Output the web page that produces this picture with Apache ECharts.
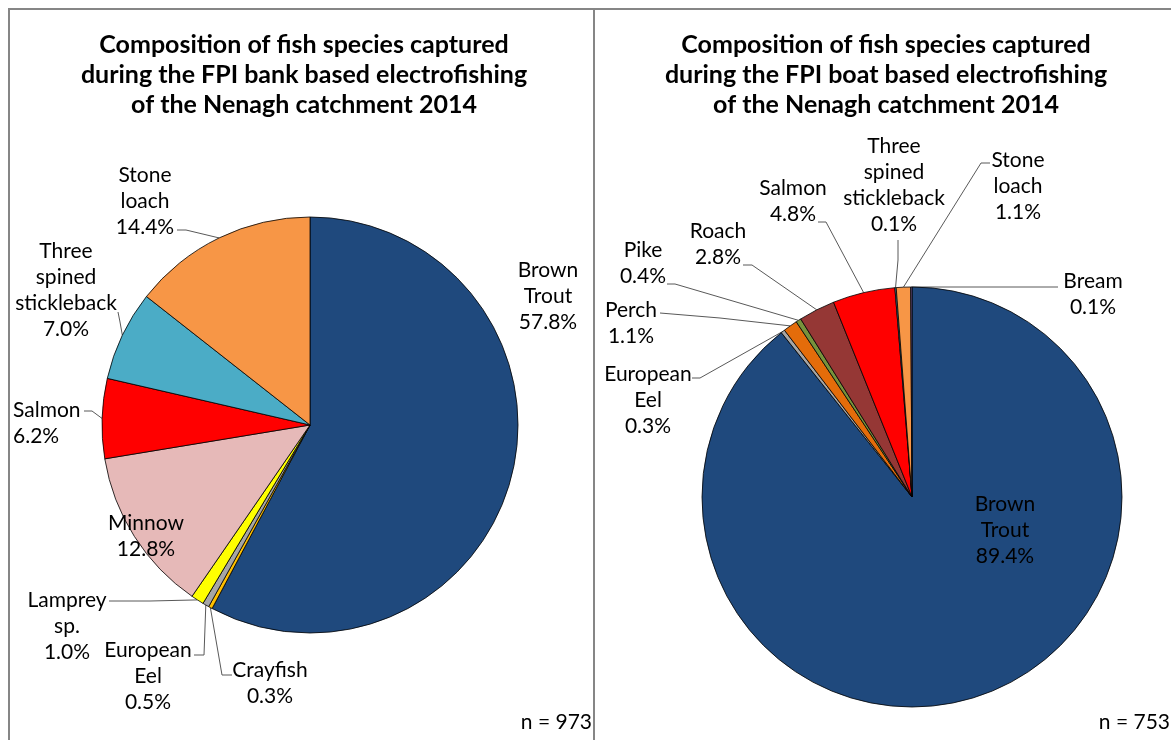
<!DOCTYPE html>
<html>
<head>
<meta charset="utf-8">
<script src="https://cdn.jsdelivr.net/npm/echarts@6/dist/echarts.min.js"></script>
<style>
html,body{margin:0;padding:0;background:#fff;}
#chart{width:1171px;height:740px;}
</style>
</head>
<body>
<div id="chart"></div>
<script>
// ---- data ----
const leftTitle = 'Composition of fish species captured\nduring the FPI bank based electrofishing\nof the Nenagh catchment 2014';
const rightTitle = 'Composition of fish species captured\nduring the FPI boat based electrofishing\nof the Nenagh catchment 2014';
const leftN = 'n = 973';
const rightN = 'n = 753';

const leftCategories = ['Brown Trout', 'Crayfish', 'European Eel', 'Lamprey sp.', 'Minnow', 'Salmon', 'Three spined stickleback', 'Stone loach'];
const leftValues = [57.8, 0.3, 0.5, 1.0, 12.8, 6.2, 7.0, 14.4];
const leftLabelNames = ['Brown\nTrout', 'Crayfish', 'European\nEel', 'Lamprey\nsp.', 'Minnow', 'Salmon', 'Three\nspined\nstickleback', 'Stone\nloach'];
const leftColors = ['#1F497D', '#FFC000', '#A6A6A6', '#FFFF00', '#E6B9B8', '#FF0000', '#4BACC6', '#F79646'];

const rightCategories = ['Brown Trout', 'European Eel', 'Perch', 'Pike', 'Roach', 'Salmon', 'Three spined stickleback', 'Stone loach', 'Bream'];
const rightValues = [89.4, 0.3, 1.1, 0.4, 2.8, 4.8, 0.1, 1.1, 0.1];
const rightLabelNames = ['Brown\nTrout', 'European\nEel', 'Perch', 'Pike', 'Roach', 'Salmon', 'Three\nspined\nstickleback', 'Stone\nloach', 'Bream'];
const rightColors = ['#1F497D', '#A6A6A6', '#E46C0A', '#77933C', '#953735', '#FF0000', '#4BACC6', '#F79646', '#8064A2'];

// ---- label layout (positions of label text and leader-line bends) ----
const leftLayout = [
  {x: 548, y: 296},
  {x: 270, y: 683, line: [[222, 675], [232, 675]]},
  {x: 148, y: 676, line: [[204, 655], [194, 655]]},
  {x: 67, y: 626, line: [[150, 601], [109, 601]]},
  {x: 146, y: 536},
  {x: 13, y: 423, align: 'left', line: [[92, 411], [84, 411]]},
  {x: 66, y: 290, line: [[120, 322], [118, 312]]},
  {x: 145, y: 201, line: [[186, 230], [177, 230]]}
];
const rightLayout = [
  {x: 1005, y: 530},
  {x: 648, y: 400, line: [[700, 378], [692, 378]]},
  {x: 631, y: 323, line: [[720, 318], [660, 313]]},
  {x: 643, y: 263, line: [[675, 284], [667, 284]]},
  {x: 718, y: 244, line: [[752, 265], [743, 265]]},
  {x: 793, y: 201, line: [[826, 222], [818, 222]]},
  {x: 894, y: 185, line: [[898, 260], [898, 240]]},
  {x: 1018, y: 186, line: [[981, 163], [990, 163]]},
  {x: 1093, y: 294, line: [[990, 287], [1058, 287]]}
];

const FONT = 'Lato, "Open Sans", sans-serif';
const LABEL_SIZE = 21;
const TITLE_SIZE = 25;
const leftCenter = [310, 425], leftRadius = 208;
const rightCenter = [912, 497], rightRadius = 210;

function edgePoint(values, idx, center, radius) {
  const total = values.reduce((a, b) => a + b, 0);
  let cum = 0;
  for (let i = 0; i < idx; i++) cum += values[i];
  const mid = (cum + values[idx] / 2) / total * Math.PI * 2;
  return [center[0] + radius * Math.sin(mid), center[1] - radius * Math.cos(mid)];
}

function buildData(cats, vals, names, colors, layout) {
  return cats.map((c, i) => ({
    name: c,
    value: vals[i],
    labelName: names[i],
    itemStyle: {color: colors[i]},
    labelLine: {show: !!layout[i].line}
  }));
}

function makeLayout(layout, values, center, radius) {
  return function (params) {
    const L = layout[params.dataIndex];
    const out = {x: L.x, y: L.y, align: L.align || 'center', verticalAlign: 'middle'};
    if (L.line) {
      const edge = (params.labelLinePoints && params.labelLinePoints[0]) || edgePoint(values, params.dataIndex, center, radius);
      out.labelLinePoints = [edge, L.line[0], L.line[1]];
    }
    return out;
  };
}

function makeSeries(cats, vals, names, colors, layout, center, radius) {
  return {
    type: 'pie',
    center: center,
    radius: radius,
    startAngle: 90,
    clockwise: true,
    avoidLabelOverlap: false,
    animation: false,
    silent: true,
    data: buildData(cats, vals, names, colors, layout),
    itemStyle: {borderColor: '#000', borderWidth: 0.8},
    label: {
      show: true,
      position: 'outside',
      fontFamily: FONT,
      fontSize: LABEL_SIZE,
      lineHeight: 26,
      color: '#000',
      formatter: p => p.data.labelName + '\n' + p.value.toFixed(1) + '%'
    },
    labelLine: {show: true, lineStyle: {color: '#595959', width: 1}},
    labelLayout: makeLayout(layout, vals, center, radius)
  };
}

const chart = echarts.init(document.getElementById('chart'), null, {renderer: 'canvas'});
chart.setOption({
  backgroundColor: '#fff',
  title: [
    {text: leftTitle, left: 304, top: 30, textAlign: 'center', padding: 0,
     textStyle: {fontFamily: FONT, fontSize: TITLE_SIZE, fontWeight: 'bold', lineHeight: 30, color: '#000'}},
    {text: rightTitle, left: 886, top: 30, textAlign: 'center', padding: 0,
     textStyle: {fontFamily: FONT, fontSize: TITLE_SIZE, fontWeight: 'bold', lineHeight: 30, color: '#000'}}
  ],
  graphic: [
    {type: 'line', shape: {x1: 8, y1: 9, x2: 1171, y2: 9}, style: {stroke: '#868686', lineWidth: 2}},
    {type: 'line', shape: {x1: 9, y1: 8, x2: 9, y2: 740}, style: {stroke: '#868686', lineWidth: 2}},
    {type: 'line', shape: {x1: 594, y1: 8, x2: 594, y2: 740}, style: {stroke: '#868686', lineWidth: 2}},
    {type: 'text', x: 592, y: 722, style: {text: leftN, textAlign: 'right', textVerticalAlign: 'middle', font: LABEL_SIZE + 'px ' + FONT, fill: '#000'}},
    {type: 'text', x: 1170, y: 722, style: {text: rightN, textAlign: 'right', textVerticalAlign: 'middle', font: LABEL_SIZE + 'px ' + FONT, fill: '#000'}}
  ],
  series: [
    makeSeries(leftCategories, leftValues, leftLabelNames, leftColors, leftLayout, leftCenter, leftRadius),
    makeSeries(rightCategories, rightValues, rightLabelNames, rightColors, rightLayout, rightCenter, rightRadius)
  ]
});
</script>
</body>
</html>
